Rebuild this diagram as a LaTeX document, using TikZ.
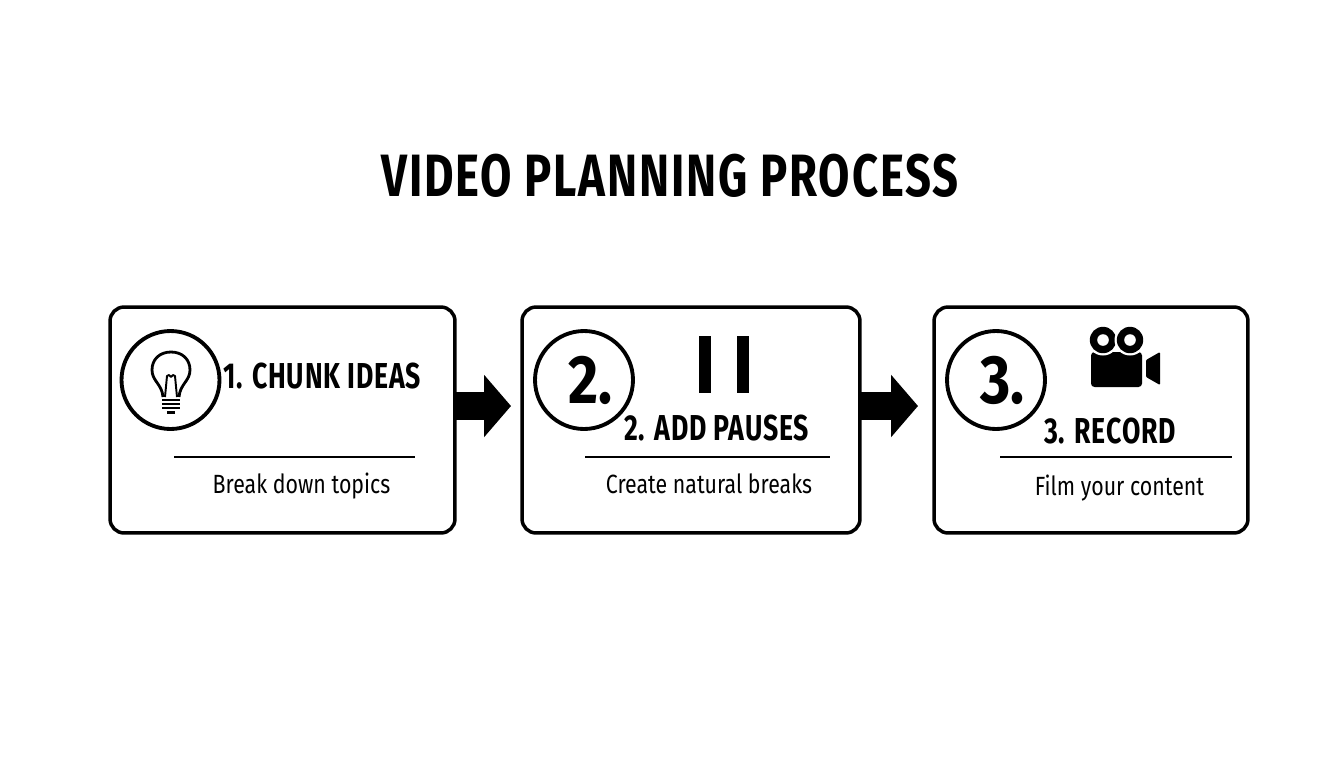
\documentclass[tikz,border=0pt]{standalone}
\usepackage{fontspec}
\setmainfont{Fira Sans}
\newfontfamily\titlefont[FakeStretch=0.76,LetterSpace=3.1]{Fira Sans}
\newfontfamily\headfont[FakeStretch=0.74,LetterSpace=2.2]{Fira Sans}
\newfontfamily\numfont[FakeStretch=0.85]{Fira Sans}
\newfontfamily\bodyfont[FakeStretch=0.81]{Fira Sans}
\usetikzlibrary{arrows.meta}

\begin{document}
\begin{tikzpicture}[x=0.02cm,y=-0.02cm,
  card/.style={draw,line width=2pt,rounded corners=8pt,minimum height=4.52cm,inner sep=0pt,outer sep=0pt},
  badge/.style={draw,circle,line width=2.2pt,minimum size=1.96cm,inner sep=0pt,font=\numfont\fontsize{39}{39}\selectfont\bfseries},
  heading/.style={inner sep=0pt,font=\headfont\fontsize{20.5}{20.5}\selectfont\bfseries},
  caption/.style={inner sep=0pt,font=\bodyfont\fontsize{15}{15}\selectfont},
  flow/.style={line width=16.4pt,-{Triangle[length=15.3pt,width=34.6pt]}}]
\colorlet{ink}{black};
\useasboundingbox (0,0) rectangle (1344,768);

% Title
\node[inner sep=0pt,font=\titlefont\fontsize{34}{34}\selectfont\bfseries] (title) at (670,176) {VIDEO PLANNING PROCESS};

% Cards
\node[card,minimum width=6.9cm] (card1) at (282.5,420) {};
\node[card,minimum width=6.76cm] (card2) at (691,420) {};
\node[card,minimum width=6.28cm] (card3) at (1091,420) {};

% Badges
\node[badge] (badge1) at (170.5,380) {};
\node[badge] (badge2) at (584,380) {\hspace{7pt}2.};
\node[badge] (badge3) at (996,380) {\hspace{7pt}3.};

% Headings
\node[heading] (head1) at (322,376) {1. CHUNK IDEAS};
\node[heading] (head2) at (716.5,428) {2. ADD PAUSES};
\node[heading] (head3) at (1110,431) {3. RECORD};

% Dividers
\foreach \a/\b/\y in {174/415/457,585/830/457,1000/1232/457}{
\draw[line width=0.9pt] (\a,\y) -- (\b,\y);
}

% Captions
\node[caption] (text1) at (301.5,486) {Break down topics};
\node[caption] (text2) at (709,484) {Create natural breaks};
\node[caption] (text3) at (1119.5,488) {Film your content};

% Arrows
\coordinate (tip1) at (511,406);
\coordinate (tip2) at (918,406);
\draw[flow] (card1.east |- tip1) -- (tip1);
\draw[flow] (card2.east |- tip2) -- (tip2);

% Bulb
\draw[line width=1.6pt,line join=round] (163,397) .. controls (162,384) and (152,381) .. (152,370)
  .. controls (152,359) and (160,352) .. (171,352)
  .. controls (182,352) and (190,359) .. (190,370)
  .. controls (190,381) and (180,384) .. (179,397);
\draw[line width=1.1pt,line join=round] (165,397) -- (167,376) -- (169,375) -- (171,377) -- (173,375) -- (175,376) -- (177,397);
\foreach \y in {400,404,408}{
\draw[line width=1.3pt] (162,\y) -- (180,\y);
}
\draw[line width=1.5pt] (167,412.5) -- (175,412.5);

% Pause
\foreach \x in {699,737}{
\fill[ink] (\x,336) rectangle (\x+12,393);
}

% Camera
\fill[ink,rounded corners=2pt] (1091,352) rectangle (1142,387);
\foreach \x in {1103,1130}{
\fill[white] (\x,340) circle [radius=15.5];
\fill[ink] (\x,340) circle [radius=13.2];
\fill[white] (\x,340) circle [radius=5.8];
}
\fill[ink,rounded corners=0.6pt] (1146,360) -- (1160,352) -- (1160,385) -- (1146,377) -- cycle;
\end{tikzpicture}
\end{document}
